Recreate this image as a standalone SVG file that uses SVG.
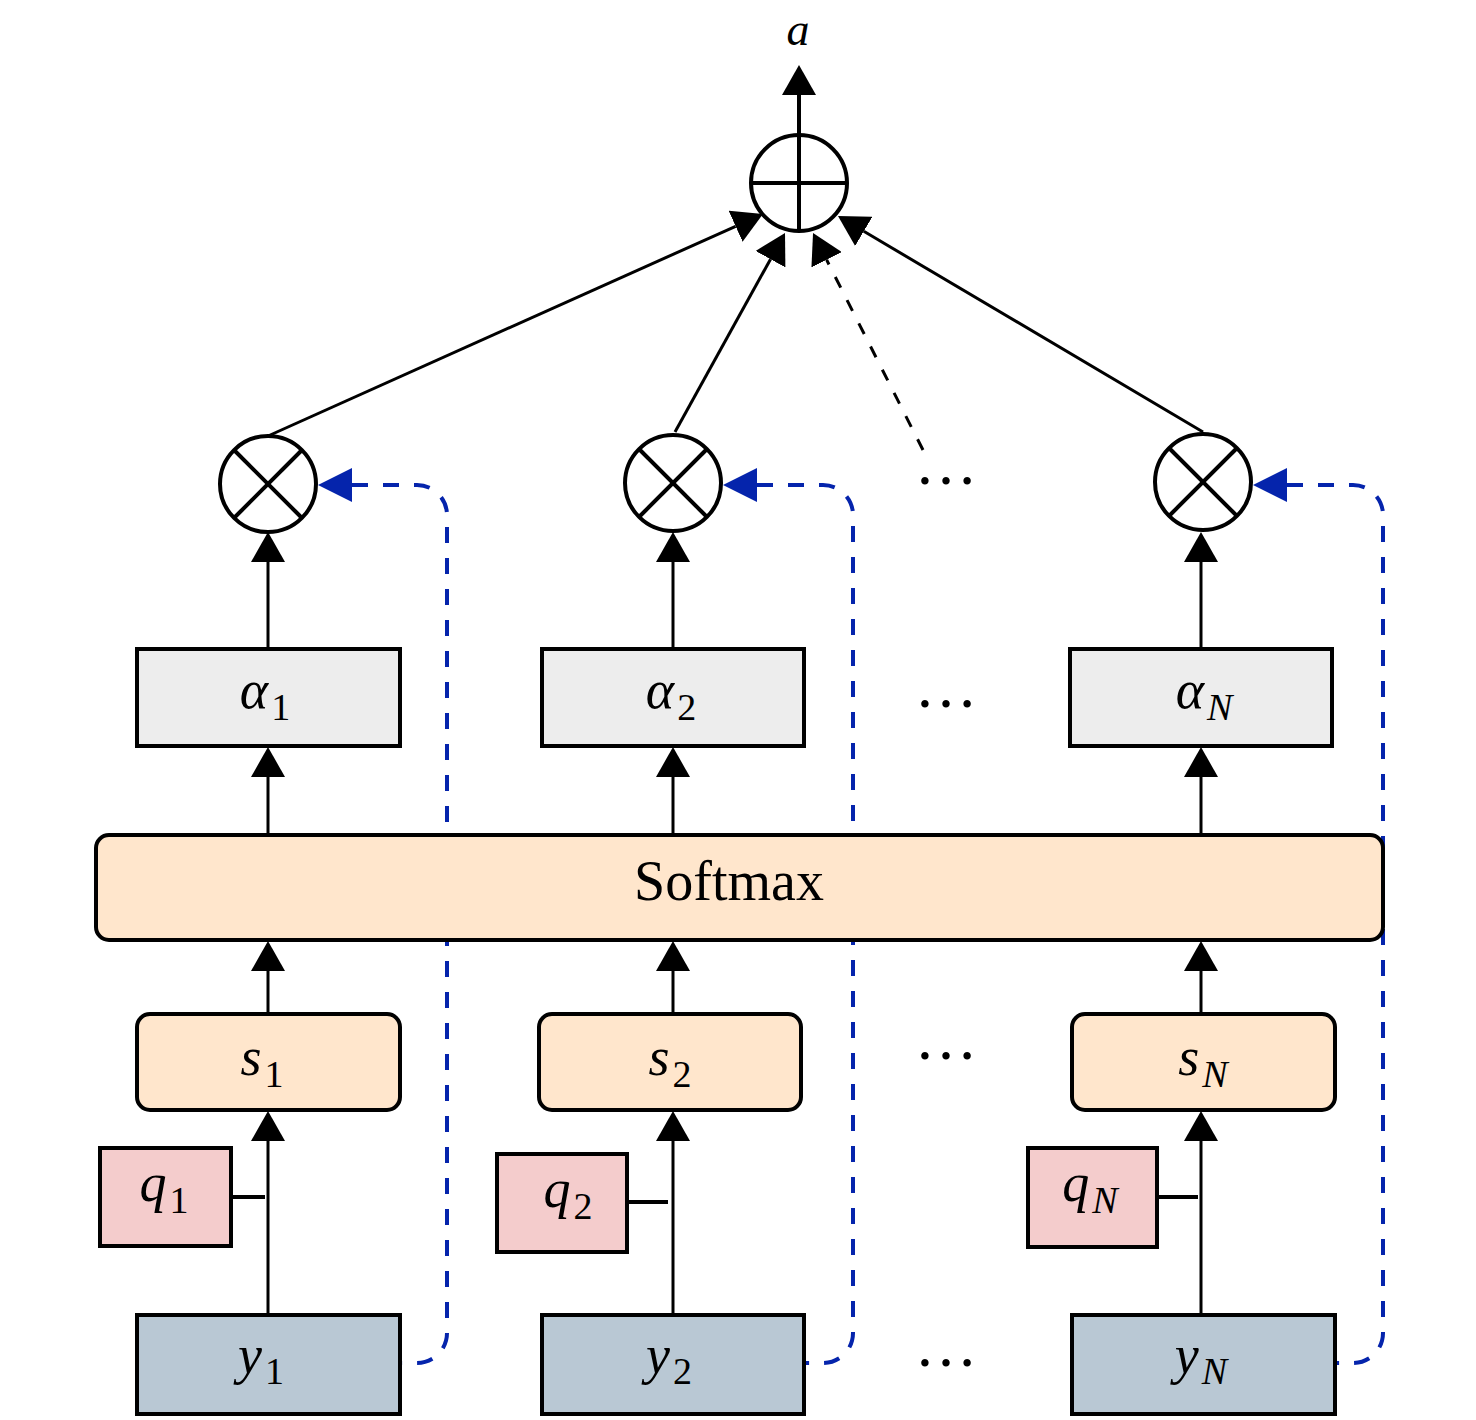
<svg xmlns="http://www.w3.org/2000/svg" width="1476" height="1420" viewBox="0 0 1476 1420">
<defs>
<style>
.box{stroke:#000;stroke-width:4}
.alpha{fill:#EDEDED}
.peach{fill:#FFE6CC}
.qf{fill:#F4CCCC}
.yf{fill:#B9C8D4}
.op{fill:#fff;stroke:#000;stroke-width:4}
.opl{stroke:#000;stroke-width:4}
.lbl{font-family:"Liberation Serif","Times New Roman",serif;font-size:54px;fill:#000}
.it{font-style:italic}
.sub{font-size:38px}
.dots{font-family:"Liberation Serif","Times New Roman",serif;font-size:63px;fill:#000}
.ln{stroke:#000;stroke-width:3;fill:none}
.dash{stroke:#000;stroke-width:3;fill:none;stroke-dasharray:12 14}
.blue{stroke:#0524ac;stroke-width:4;fill:none;stroke-dasharray:16 15}
</style>
<marker id="ah" markerUnits="userSpaceOnUse" markerWidth="30" markerHeight="34" viewBox="0 0 30 34" refX="0" refY="17" orient="auto"><path d="M0,0 L30,17 L0,34 z" fill="#000"/></marker>
<marker id="bh" markerUnits="userSpaceOnUse" markerWidth="34" markerHeight="34" viewBox="0 0 34 34" refX="0" refY="17" orient="auto-start-reverse"><path d="M0,0 L34,17 L0,34 z" fill="#0524ac"/></marker>
</defs>
<rect width="1476" height="1420" fill="#fff"/>

<g id="connectors">
<path class="blue" marker-start="url(#bh)" d="M352,485 H417 A30,30 0 0 1 447,515 V1333 A30,30 0 0 1 417,1363 H402"/>
<path class="blue" marker-start="url(#bh)" d="M757,485 H823 A30,30 0 0 1 853,515 V1333 A30,30 0 0 1 823,1363 H806"/>
<path class="blue" marker-start="url(#bh)" d="M1287,485 H1353 A30,30 0 0 1 1383,515 V1333 A30,30 0 0 1 1353,1363 H1337"/>
<line class="ln" x1="268" y1="1313" x2="268" y2="1141" marker-end="url(#ah)"/>
<line class="ln" x1="673" y1="1313" x2="673" y2="1141" marker-end="url(#ah)"/>
<line class="ln" x1="1201" y1="1313" x2="1201" y2="1141" marker-end="url(#ah)"/>
<line class="opl" x1="233" y1="1197" x2="265" y2="1197"/>
<line class="opl" x1="629" y1="1202" x2="668" y2="1202"/>
<line class="opl" x1="1159" y1="1197" x2="1198" y2="1197"/>
<line class="ln" x1="268" y1="1012" x2="268" y2="971" marker-end="url(#ah)"/>
<line class="ln" x1="673" y1="1012" x2="673" y2="971" marker-end="url(#ah)"/>
<line class="ln" x1="1201" y1="1012" x2="1201" y2="971" marker-end="url(#ah)"/>
<line class="ln" x1="268" y1="833" x2="268" y2="777" marker-end="url(#ah)"/>
<line class="ln" x1="673" y1="833" x2="673" y2="777" marker-end="url(#ah)"/>
<line class="ln" x1="1201" y1="833" x2="1201" y2="777" marker-end="url(#ah)"/>
<line class="ln" x1="268" y1="648" x2="268" y2="562" marker-end="url(#ah)"/>
<line class="ln" x1="673" y1="648" x2="673" y2="562" marker-end="url(#ah)"/>
<line class="ln" x1="1201" y1="648" x2="1201" y2="562" marker-end="url(#ah)"/>
<line class="ln" x1="268" y1="436" x2="735.6" y2="226.3" marker-end="url(#ah)"/>
<line class="ln" x1="675" y1="432" x2="770.5" y2="259.2" marker-end="url(#ah)"/>
<line class="dash" x1="923" y1="450" x2="826.6" y2="259.8" marker-end="url(#ah)"/>
<line class="ln" x1="1203" y1="432" x2="863.8" y2="231.3" marker-end="url(#ah)"/>
<line class="opl" x1="799" y1="135" x2="799" y2="95" marker-end="url(#ah)"/>
</g>

<g id="softmax">
<rect class="box peach" x="96" y="835" width="1287" height="105" rx="13"/>
<text class="lbl" x="729" y="900" text-anchor="middle" style="font-size:56px">Softmax</text>
</g>

<g id="y1"><rect class="box yf" x="137" y="1315" width="263" height="99"/>
<text class="lbl" x="261" y="1373" text-anchor="middle"><tspan class="it">y</tspan><tspan class="sub" dx="3" dy="11">1</tspan></text></g>
<g id="y2"><rect class="box yf" x="542" y="1315" width="262" height="99"/>
<text class="lbl" x="669" y="1373" text-anchor="middle"><tspan class="it">y</tspan><tspan class="sub" dx="3" dy="11">2</tspan></text></g>
<g id="yN"><rect class="box yf" x="1072" y="1315" width="263" height="99"/>
<text class="lbl" x="1201" y="1373" text-anchor="middle"><tspan class="it">y</tspan><tspan class="sub it" dx="3" dy="11">N</tspan></text></g>

<g id="q1"><rect class="box qf" x="100" y="1148" width="131" height="98"/>
<text class="lbl" x="164" y="1201" text-anchor="middle"><tspan class="it">q</tspan><tspan class="sub" dx="3" dy="12">1</tspan></text></g>
<g id="q2"><rect class="box qf" x="497" y="1154" width="130" height="98"/>
<text class="lbl" x="568" y="1207" text-anchor="middle"><tspan class="it">q</tspan><tspan class="sub" dx="3" dy="12">2</tspan></text></g>
<g id="qN"><rect class="box qf" x="1028" y="1148" width="129" height="99"/>
<text class="lbl" x="1090" y="1201" text-anchor="middle"><tspan class="it">q</tspan><tspan class="sub it" dx="3" dy="12">N</tspan></text></g>

<g id="s1"><rect class="box peach" x="137" y="1014" width="263" height="96" rx="13"/>
<text class="lbl" x="262" y="1075" text-anchor="middle"><tspan class="it">s</tspan><tspan class="sub" dx="3" dy="12">1</tspan></text></g>
<g id="s2"><rect class="box peach" x="539" y="1014" width="262" height="96" rx="13"/>
<text class="lbl" x="670" y="1075" text-anchor="middle"><tspan class="it">s</tspan><tspan class="sub" dx="3" dy="12">2</tspan></text></g>
<g id="sN"><rect class="box peach" x="1072" y="1014" width="263" height="96" rx="13"/>
<text class="lbl" x="1203" y="1075" text-anchor="middle"><tspan class="it">s</tspan><tspan class="sub it" dx="3" dy="12">N</tspan></text></g>

<g id="alpha1"><rect class="box alpha" x="137" y="649" width="263" height="97"/>
<text class="lbl" x="265" y="708" text-anchor="middle"><tspan class="it">α</tspan><tspan class="sub" dx="3" dy="12">1</tspan></text></g>
<g id="alpha2"><rect class="box alpha" x="542" y="649" width="262" height="97"/>
<text class="lbl" x="671" y="708" text-anchor="middle"><tspan class="it">α</tspan><tspan class="sub" dx="3" dy="12">2</tspan></text></g>
<g id="alphaN"><rect class="box alpha" x="1070" y="649" width="262" height="97"/>
<text class="lbl" x="1204" y="708" text-anchor="middle"><tspan class="it">α</tspan><tspan class="sub it" dx="3" dy="12">N</tspan></text></g>

<g id="mul1"><circle class="op" cx="268" cy="484" r="48"/>
<line class="opl" x1="234" y1="450" x2="302" y2="518"/><line class="opl" x1="302" y1="450" x2="234" y2="518"/></g>
<g id="mul2"><circle class="op" cx="673" cy="483" r="48"/>
<line class="opl" x1="639" y1="449" x2="707" y2="517"/><line class="opl" x1="707" y1="449" x2="639" y2="517"/></g>
<g id="mulN"><circle class="op" cx="1203" cy="482" r="48"/>
<line class="opl" x1="1169" y1="448" x2="1237" y2="516"/><line class="opl" x1="1237" y1="448" x2="1169" y2="516"/></g>

<g id="sum"><circle class="op" cx="799" cy="183" r="48"/>
<line class="opl" x1="751" y1="183" x2="847" y2="183"/><line class="opl" x1="799" y1="135" x2="799" y2="231"/></g>

<g id="output"><text class="lbl it" x="798" y="45" text-anchor="middle" style="font-size:46px">a</text></g>

<g id="ellipses">
<text class="dots" x="946" y="484" text-anchor="middle">…</text>
<text class="dots" x="946" y="707" text-anchor="middle">…</text>
<text class="dots" x="946" y="1059" text-anchor="middle">…</text>
<text class="dots" x="946" y="1366" text-anchor="middle">…</text>
</g>
</svg>
